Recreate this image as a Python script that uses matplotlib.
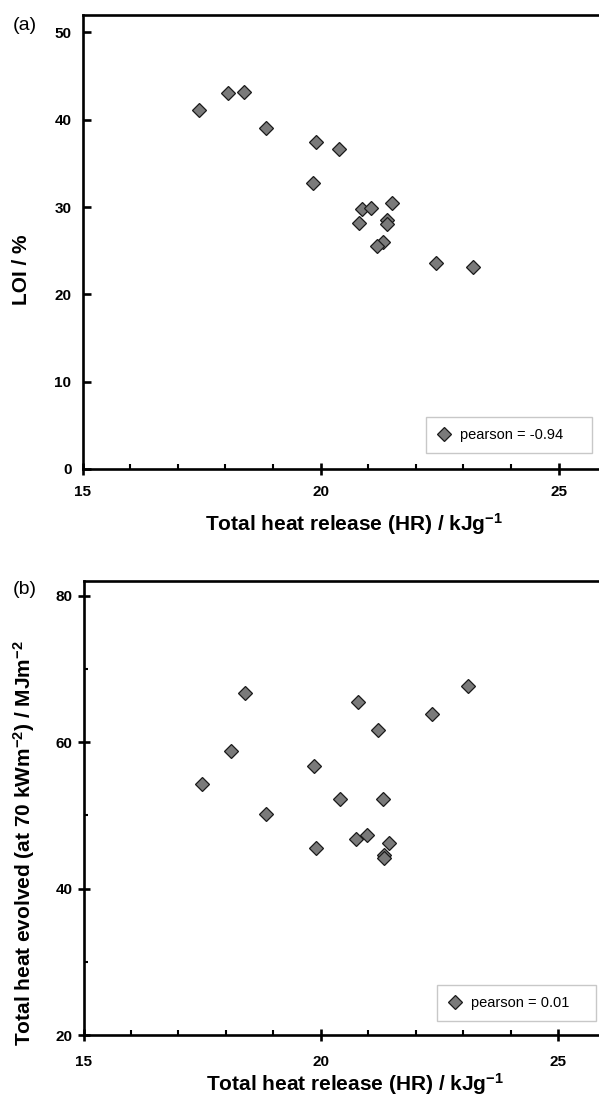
import matplotlib
matplotlib.use("Agg")
import matplotlib.pyplot as plt
from matplotlib.ticker import MultipleLocator

plt.rcParams['font.family'] = ['Liberation Sans', 'DejaVu Sans']
plt.rcParams['font.weight'] = 'bold'
plt.rcParams['mathtext.fontset'] = 'custom'
plt.rcParams['mathtext.rm'] = 'Liberation Sans:bold'
plt.rcParams['mathtext.it'] = 'Liberation Sans:bold'
plt.rcParams['mathtext.bf'] = 'Liberation Sans:bold'
plt.rcParams['mathtext.default'] = 'rm'

# Panel (a): total heat release vs LOI
hr_a = [17.45, 18.05, 18.40, 18.86, 19.90, 20.39, 19.85, 20.86, 21.06, 21.49,
        20.80, 21.39, 21.39, 21.30, 21.19, 22.42, 23.19]
loi = [41.1, 43.1, 43.2, 39.0, 37.5, 36.6, 32.8, 29.8, 29.9, 30.5,
       28.2, 28.5, 28.1, 26.0, 25.5, 23.6, 23.1]

# Panel (b): total heat release vs total heat evolved
hr_b = [17.50, 18.10, 18.40, 18.85, 19.85, 20.41, 20.79, 21.20, 21.31, 22.35,
        23.10, 19.89, 20.75, 20.97, 21.43, 21.33, 21.33]
the = [54.3, 58.8, 66.7, 50.2, 56.8, 52.3, 65.5, 61.6, 52.2, 63.9,
       67.7, 45.6, 46.8, 47.3, 46.3, 44.6, 44.2]

legend_a = "pearson = -0.94"
legend_b = "pearson = 0.01"
xlabel = "Total heat release (HR) / kJg$^{-1}$"
ylabel_a = "LOI / %"
ylabel_b = "Total heat evolved (at 70 kWm$^{-2}$) / MJm$^{-2}$"

W, H = 599, 1099
fig = plt.figure(figsize=(W / 100, H / 100), dpi=100)

marker_kw = dict(marker='D', linestyle='none', markersize=6.8,
                 markerfacecolor='#7a7a7a', markeredgecolor='#1a1a1a',
                 markeredgewidth=0.9)


def style(ax, ymajor, yminor, ydir, ylen, ypad, xpad):
    ax.spines['right'].set_visible(False)
    for s in ('left', 'bottom', 'top'):
        ax.spines[s].set_linewidth(1.9)
    ax.xaxis.set_major_locator(MultipleLocator(5))
    ax.xaxis.set_minor_locator(MultipleLocator(1))
    ax.yaxis.set_major_locator(MultipleLocator(ymajor))
    if yminor:
        ax.yaxis.set_minor_locator(MultipleLocator(yminor))
    else:
        ax.yaxis.set_minor_locator(plt.NullLocator())
    ax.tick_params(axis='x', which='major', direction='inout', length=8,
                   width=1.9, labelsize=11, pad=xpad)
    ax.tick_params(axis='x', which='minor', direction='in', length=3.5, width=1.5)
    ax.tick_params(axis='y', which='major', direction=ydir, length=ylen,
                   width=1.9, labelsize=11, pad=ypad)
    ax.tick_params(axis='y', which='minor', direction='in', length=3, width=1.5)
    ax.tick_params(top=False, right=False, which='both')


leg_kw = dict(loc='lower left', mode='expand', borderaxespad=0, fancybox=False,
              edgecolor='#c8c8c8', framealpha=1,
              prop={'size': 10.5, 'weight': 'normal'},
              handlelength=1.0, handletextpad=0.6, borderpad=0.75, numpoints=1)

# ---- panel (a)
L1 = 82.5
ax1 = fig.add_axes([L1 / W, 1 - 469 / H, (W - L1) / W, (469 - 15) / H])
ax1.plot(hr_a, loi, label=legend_a, **marker_kw)
ax1.set_xlim(15, 15 + (W - L1) / 47.62)
ax1.set_ylim(0, 52)
style(ax1, 10, None, 'in', 6, 8, 7.5)
ax1.set_xlabel(xlabel, fontsize=15, fontweight='bold', va='top')
ax1.xaxis.set_label_coords(0.526, -0.0925)
ax1.set_ylabel(ylabel_a, fontsize=15, fontweight='bold', va='center')
ax1.yaxis.set_label_coords(-0.118, 0.438)
leg1 = ax1.legend(bbox_to_anchor=(0.665, 0.036, 0.3205, 0.0736), **leg_kw)
leg1.get_frame().set_linewidth(1.0)
fig.text(12.7 / W, 1 - 25.5 / H, "(a)", fontsize=14, fontweight='normal',
         va='center', ha='left')

# ---- panel (b)
L2 = 83.5
ax2 = fig.add_axes([L2 / W, 1 - 1035.3 / H, (W - L2) / W, (1035.3 - 581) / H])
ax2.plot(hr_b, the, label=legend_b, **marker_kw)
ax2.set_xlim(15, 15 + (W - L2) / 47.46)
ax2.set_ylim(20, 82)
style(ax2, 20, 10, 'inout', 8, 4, 10)
ax2.set_xlabel(xlabel, fontsize=15, fontweight='bold', va='top')
ax2.xaxis.set_label_coords(0.527, -0.078)
ax2.set_ylabel(ylabel_b, fontsize=15, fontweight='bold', va='center')
ax2.yaxis.set_label_coords(-0.115, 0.423)
leg2 = ax2.legend(bbox_to_anchor=(0.6854, 0.032, 0.3088, 0.0786), **leg_kw)
leg2.get_frame().set_linewidth(1.0)
fig.text(12.7 / W, 1 - 590 / H, "(b)", fontsize=14, fontweight='normal',
         va='center', ha='left')

fig.savefig("out.png", dpi=100)
